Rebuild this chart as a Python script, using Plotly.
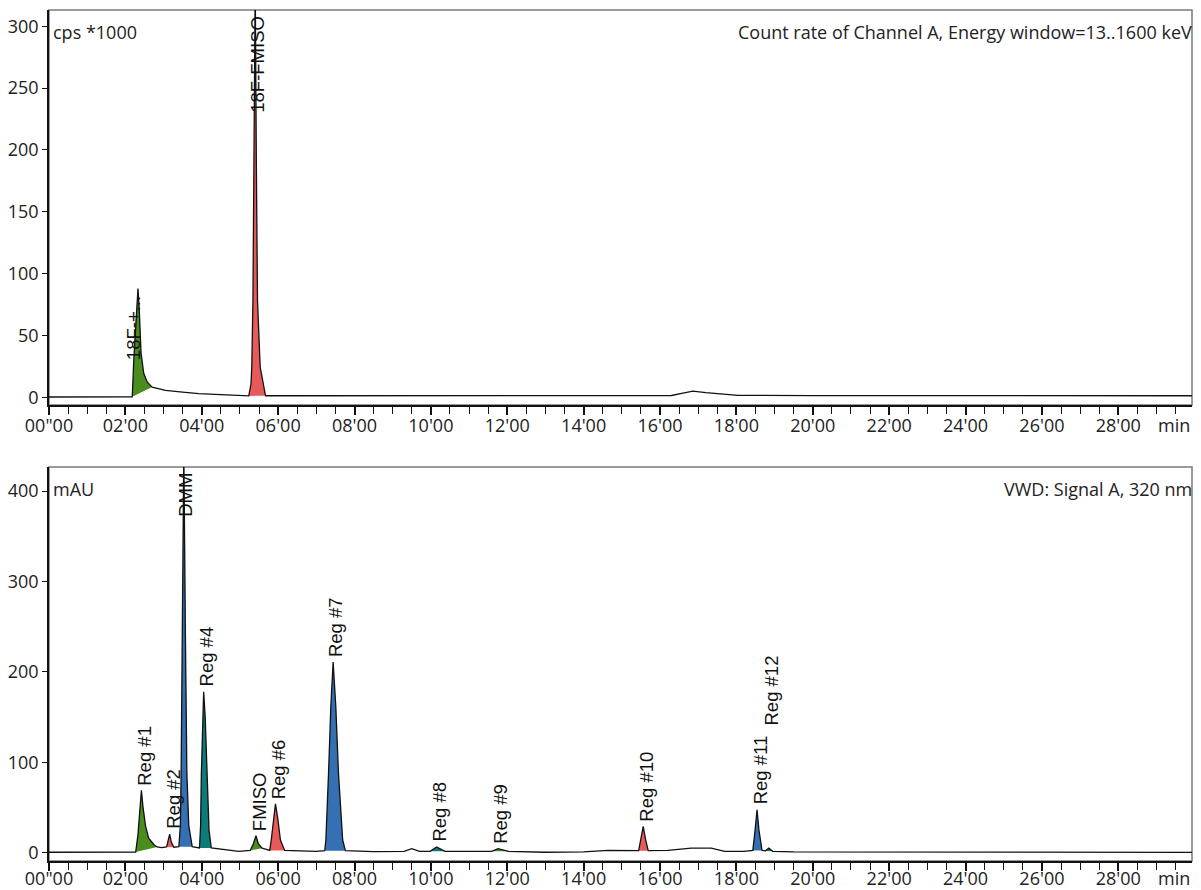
import plotly.graph_objects as go
from plotly.subplots import make_subplots

# ---- radio detector (cps *1000) ----
top_time = [0.0, 1.0, 2.15, 2.18, 2.22, 2.27, 2.33, 2.36, 2.41, 2.48, 2.57, 2.70,
            2.85, 3.05, 3.50, 3.92, 4.50, 5.14, 5.23, 5.29, 5.31, 5.34, 5.37, 5.40,
            5.43, 5.46, 5.53, 5.60, 5.67, 6.50, 10.0, 14.0, 16.30, 16.60, 16.86,
            17.20, 17.69, 18.04, 20.0, 30.0]
top_signal = [0.3, 0.3, 0.3, 0.5, 30, 62, 88, 73, 36, 19.5, 12.5, 8.3,
              7.0, 5.7, 4.2, 3.0, 2.2, 1.6, 1.2, 11, 24.5, 78, 186, 335,
              186, 78, 24.5, 11, 1.3, 1.3, 1.3, 1.3, 1.5, 3.5, 5.1,
              3.8, 2.4, 1.6, 1.4, 1.3]

# ---- UV detector (mAU) ----
uv_time = [0.0, 2.20, 2.27, 2.33, 2.38, 2.42, 2.46, 2.53, 2.61, 2.75, 2.83, 2.95,
           3.08, 3.13, 3.16, 3.20, 3.27, 3.40, 3.44, 3.46, 3.50, 3.53, 3.57, 3.61,
           3.66, 3.75, 3.94, 3.97, 3.99, 4.02, 4.05, 4.09, 4.14, 4.19, 4.25, 4.62,
           4.97, 5.27, 5.35, 5.42, 5.48, 5.58, 5.70, 5.78, 5.82, 5.88, 5.93, 5.99,
           6.06, 6.17, 7.0, 7.22, 7.25, 7.32, 7.38, 7.44, 7.51, 7.58, 7.69, 7.76,
           8.5, 9.3, 9.50, 9.70, 9.98, 10.15, 10.37, 11.59, 11.76, 12.03, 13.0,
           14.0, 14.64, 15.44, 15.50, 15.56, 15.62, 15.69, 16.2, 16.82, 17.34,
           17.69, 18.2, 18.43, 18.49, 18.54, 18.59, 18.67, 18.76, 18.85, 18.95,
           19.5, 30.0]
uv_signal = [0.5, 0.6, 0.7, 20, 50, 69, 51, 29, 16, 8.8, 6.3, 5.5,
             6.3, 14, 20.6, 12, 6.0, 6.6, 30, 88, 250, 445, 250, 88,
             30, 6.6, 5.2, 30, 88, 150, 178, 150, 88, 25, 5.2, 3.3,
             1.5, 2.5, 10, 18.8, 10, 5.0, 3.0, 2.5, 14, 38, 54, 38,
             14, 2.5, 1.5, 2.2, 14, 88, 162, 211, 162, 88, 14, 2.2,
             1.2, 1.5, 4.4, 1.5, 1.5, 6.3, 1.5, 1.5, 4.4, 1.5, 0.5,
             0.8, 2.5, 2.2, 15, 29, 15, 2.2, 2.5, 5.0, 5.0,
             1.5, 1.5, 2.5, 25, 47.5, 25, 2.5, 2.0, 5.0, 1.5,
             0.8, 0.4]

GREEN = "#4a8c1e"
RED = "#e85a5a"
BLUE = "#3470b2"
TEAL = "#0d7b77"

# name, start, end, colour
top_peaks = [("18F-+...", 2.18, 2.70, GREEN), ("18F-FMISO", 5.23, 5.67, RED)]
uv_peaks = [("Reg #1", 2.27, 2.83, GREEN), ("Reg #2", 3.08, 3.27, RED),
            ("DMM", 3.40, 3.75, BLUE), ("Reg #4", 3.94, 4.25, TEAL),
            ("FMISO", 5.27, 5.58, GREEN), ("Reg #6", 5.78, 6.17, RED),
            ("Reg #7", 7.22, 7.76, BLUE), ("Reg #8", 9.98, 10.37, TEAL),
            ("Reg #9", 11.59, 12.03, GREEN), ("Reg #10", 15.44, 15.69, RED),
            ("Reg #11", 18.43, 18.67, BLUE), ("Reg #12", 18.76, 18.95, TEAL)]

# labels not sitting right on top of their apex: (x, y) in data units
label_override = {"18F-+...": (2.12, 26), "Reg #12": (18.85, 135)}
label_at_top = {"18F-FMISO", "DMM"}

x_ticks = [0, 2, 4, 6, 8, 10, 12, 14, 16, 18, 20, 22, 24, 26, 28]
x_ticktext = ["00\"00"] + [f"{t:02d}'00" for t in x_ticks[1:]]
top_yticks = [0, 50, 100, 150, 200, 250, 300]
uv_yticks = [0, 100, 200, 300, 400]
X_RANGE = [0, 29.93]
TOP_RANGE = [-6.2, 313.1]
UV_RANGE = [-9.2, 426.7]

TICK_FONT = dict(family="Open Sans", size=18, color="#222222")
LABEL_FONT = dict(family="Liberation Sans", size=18.5, color="#111111")

fig = make_subplots(rows=2, cols=1, vertical_spacing=0.0729)


def add_chromatogram(row, times, values, peaks, yref):
    xref = yref.replace("y", "x")
    for name, t0, t1, col in peaks:
        px = [t for t in times if t0 <= t <= t1]
        py = [v for t, v in zip(times, values) if t0 <= t <= t1]
        fig.add_trace(go.Scatter(x=px, y=py, fill="toself", fillcolor=col,
                                 mode="lines", line=dict(width=0, color=col),
                                 hoverinfo="skip", showlegend=False),
                      row=row, col=1)
    fig.add_trace(go.Scatter(x=times, y=values, mode="lines",
                             line=dict(color="#111111", width=1.3),
                             showlegend=False), row=row, col=1)
    for name, t0, t1, col in peaks:
        seg = [(v, t) for t, v in zip(times, values) if t0 <= t <= t1]
        apex_v, apex_t = max(seg)
        if name in label_at_top:
            fig.add_annotation(x=apex_t, y=1, xref=xref, yref=f"{yref} domain",
                               text=name, textangle=-90, showarrow=False,
                               xanchor="center", yanchor="top", xshift=2,
                               yshift=-4, font=LABEL_FONT)
            continue
        lx, ly = label_override.get(name, (apex_t, apex_v))
        fig.add_annotation(x=lx, y=ly, xref=xref, yref=yref, text=name,
                           textangle=-90, showarrow=False, xanchor="center",
                           yanchor="bottom", xshift=3, yshift=3, font=LABEL_FONT)


add_chromatogram(1, top_time, top_signal, top_peaks, "y")
add_chromatogram(2, uv_time, uv_signal, uv_peaks, "y2")

axis_common = dict(showgrid=False, zeroline=False, showline=True,
                   linecolor="#111111", linewidth=1.5, ticks="outside",
                   tickcolor="#111111", tickfont=TICK_FONT, automargin=False)
for r, standoff in ((1, -4), (2, -7)):
    fig.update_xaxes(range=X_RANGE, tickvals=x_ticks, ticktext=x_ticktext,
                     ticklen=8, tickwidth=1.5, ticklabelstandoff=standoff,
                     minor=dict(dtick=0.5, tick0=0, ticks="outside", ticklen=7,
                                tickcolor="#111111", tickwidth=1.2),
                     row=r, col=1, **axis_common)
fig.update_yaxes(range=TOP_RANGE, tickvals=top_yticks, ticklen=5, row=1, col=1,
                 **axis_common)
fig.update_yaxes(range=UV_RANGE, tickvals=uv_yticks, ticklen=5, row=2, col=1,
                 **axis_common)

# frame around each panel
for xr, yr in (("x", "y"), ("x2", "y2")):
    fig.add_shape(type="rect", xref=f"{xr} domain", yref=f"{yr} domain",
                  x0=0, x1=1, y0=0, y1=1, line=dict(color="#7a7a7a", width=1.5),
                  layer="below")

corner_texts = [("y", "cps *1000", "Count rate of Channel A, Energy window=13..1600 keV", -6),
                ("y2", "mAU", "VWD: Signal A, 320 nm", -3)]
for yr, left, right, min_shift in corner_texts:
    xr = yr.replace("y", "x")
    fig.add_annotation(x=0, y=1, xref=f"{xr} domain", yref=f"{yr} domain",
                       text=left, showarrow=False, xanchor="left", yanchor="top",
                       xshift=2, yshift=-8, font=TICK_FONT)
    fig.add_annotation(x=1, y=1, xref=f"{xr} domain", yref=f"{yr} domain",
                       text=right, showarrow=False, xanchor="right", yanchor="top",
                       xshift=2, yshift=-8, font=TICK_FONT)
    fig.add_annotation(x=1, y=0, xref=f"{xr} domain", yref=f"{yr} domain",
                       text="min", showarrow=False, xanchor="right", yanchor="top",
                       xshift=0, yshift=min_shift, font=TICK_FONT)

fig.update_layout(width=1201, height=890, plot_bgcolor="white",
                  paper_bgcolor="white",
                  margin=dict(l=49, r=9, t=10, b=29))
fig.update_layout(yaxis=dict(domain=[0.5358, 1.0]), yaxis2=dict(domain=[0.0, 0.463]))

fig.write_html("out.html", config={"displayModeBar": False},
               post_script="document.body.style.margin='0';"
                           "document.body.style.overflow='hidden';")
